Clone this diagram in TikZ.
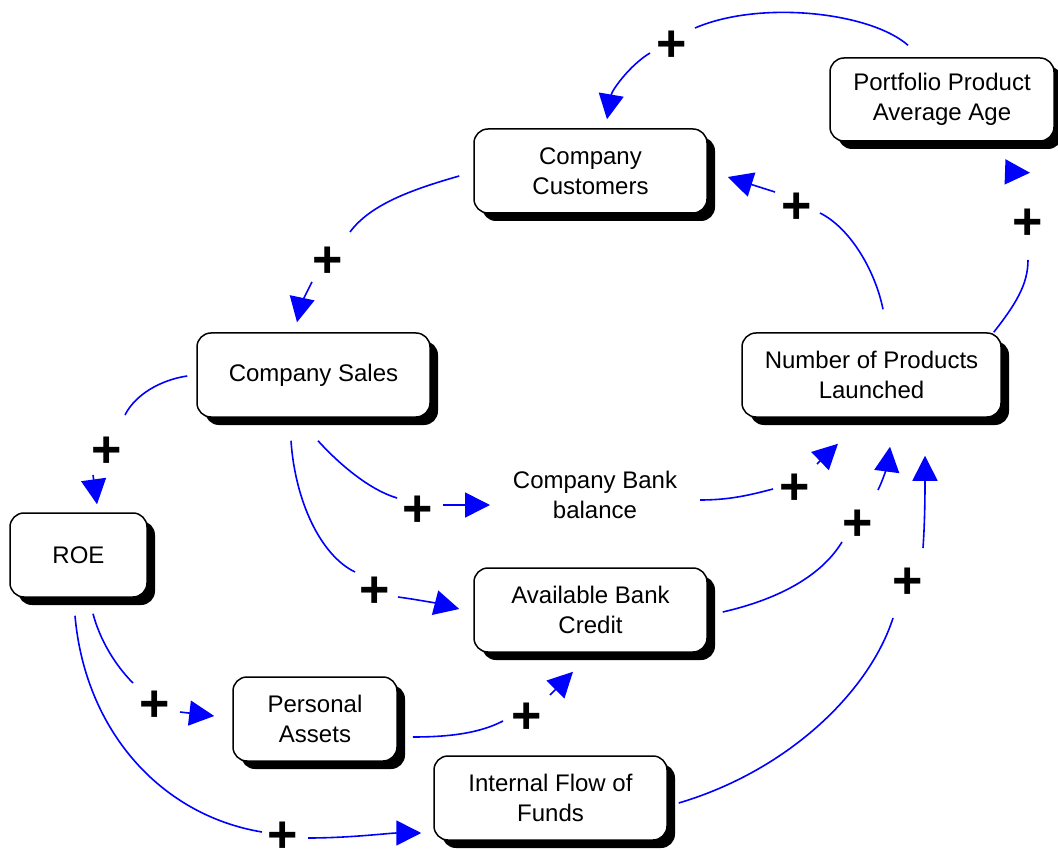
\documentclass[tikz,border=0pt]{standalone}
\usepackage{fontspec}
\setmainfont{Liberation Sans}
\usetikzlibrary{arrows.meta,shadows,calc}
\begin{document}
\begin{tikzpicture}[x=1pt,y=-1pt,
  box/.style={draw=black, line width=1.5pt, fill=white, rounded corners=14pt, align=center,
    font=\fontsize{24}{30}\selectfont, inner sep=0pt,
    drop shadow={shadow xshift=8pt, shadow yshift=-8pt, fill=black, opacity=1}},
  lbl/.style={align=center, font=\fontsize{24}{30}\selectfont, inner sep=0pt},
  link/.style={draw=blue, line width=1.6pt, -{Triangle[length=25pt,width=25pt]}},
  plus/.style={font=\fontsize{52}{52}\selectfont\bfseries, inner sep=0pt, text height=36pt, text depth=0pt}]
\useasboundingbox (0,0) rectangle (1058,850);

% nodes
\node[box, minimum width=233pt, minimum height=84pt] (cust) at (590.5,171) {Company\\Customers};
\node[box, minimum width=224pt, minimum height=83pt] (port) at (942,99.5) {Portfolio Product\\Average Age};
\node[box, minimum width=233pt, minimum height=84pt] (sales) at (313.5,375) {Company Sales};
\node[box, minimum width=259pt, minimum height=84pt] (num) at (871.5,375) {Number of Products\\Launched};
\node[box, minimum width=137pt, minimum height=84pt] (roe) at (78.5,555) {ROE};
\node[lbl] (bank) at (595,495) {Company Bank\\balance};
\node[box, minimum width=233pt, minimum height=84pt] (avail) at (590.5,610) {Available Bank\\Credit};
\node[box, minimum width=164pt, minimum height=84pt] (pers) at (315,719) {Personal\\Assets};
\node[box, minimum width=233pt, minimum height=84pt] (flow) at (550.5,798) {Internal Flow of\\Funds};

% connectors
\draw[link] ([shift={(-34,-12)}]port.north) .. controls (870,12) and (760,0) .. (695,28)
  (650,53) .. controls (630,65) and (612,90) .. ([shift={(16.5,-9)}]cust.north);
\draw[link] ([shift={(-14,5)}]cust.west) .. controls (410,190) and (370,205) .. (350,232)
  (312,282) .. controls (305,295) and (300,308) .. ([shift={(-16.5,-10)}]sales.north);
\draw[link] ([shift={(-9,1)}]sales.west) .. controls (160,380) and (135,395) .. (125,415)
  (93,475) -- ([shift={(18.5,-8)}]roe.north);
\draw[link] ([shift={(4.5,23)}]sales.south) .. controls (340,465) and (370,490) .. (397,498)
  (443,505) -- ([shift={(-105,10)}]bank.center);
\draw[link] ([shift={(-22.5,23)}]sales.south) .. controls (295,500) and (320,555) .. (355,572)
  (398,597) .. controls (420,600) and (440,604) .. ([shift={(-14,-1)}]avail.west);
\draw[link] ([shift={(105,5)}]bank.center) .. controls (730,500) and (750,495) .. (773,489)
  (817,464) -- ([shift={(-33.5,26)}]num.south);
\draw[link] ([shift={(15,2)}]avail.east) .. controls (775,600) and (820,578) .. (842,542)
  (878,490) .. controls (884,478) and (888,462) .. ([shift={(18.5,29)}]num.south);
\draw[link] ([shift={(11,5)}]flow.east) .. controls (790,770) and (870,690) .. (893,618)
  (923,548) .. controls (925,520) and (925,490) .. ([shift={(53.5,38)}]num.south);
\draw[link] ([shift={(11.5,-23)}]num.north) .. controls (875,270) and (850,228) .. (820,213)
  (775,192) -- ([shift={(20,6)}]cust.east);
\draw[link] ([shift={(-8,0)}]num.north east) .. controls (1015,305) and (1028,285) .. (1028,260)
  (1008,172) -- ([shift={(88,31)}]port.south);
\draw[link] ([shift={(14.5,16)}]roe.south) .. controls (100,640) and (115,665) .. (133,683)
  (180,712) -- ([shift={(-18,-3)}]pers.west);
\draw[link] ([shift={(-3.5,18)}]roe.south) .. controls (85,730) and (160,815) .. (262,832)
  (308,838) .. controls (350,838) and (390,833) .. ([shift={(-12,35)}]flow.west);
\draw[link] ([shift={(15,18)}]pers.east) .. controls (450,737) and (480,733) .. (503,721)
  (550,695) -- ([shift={(-17.5,19)}]avail.south);

% plus signs
\node[plus] (p1) at (672,44) {+};
\node[plus] (p2) at (328,260) {+};
\node[plus] (p3) at (107,449) {+};
\node[plus] (p4) at (418,508) {+};
\node[plus] (p5) at (375,589) {+};
\node[plus] (p6) at (795,486) {+};
\node[plus] (p7) at (858,522) {+};
\node[plus] (p8) at (908,580) {+};
\node[plus] (p9) at (797,206) {+};
\node[plus] (p10) at (1028,222) {+};
\node[plus] (p11) at (155,703) {+};
\node[plus] (p12) at (283,834) {+};
\node[plus] (p13) at (527,715) {+};
\end{tikzpicture}
\end{document}
